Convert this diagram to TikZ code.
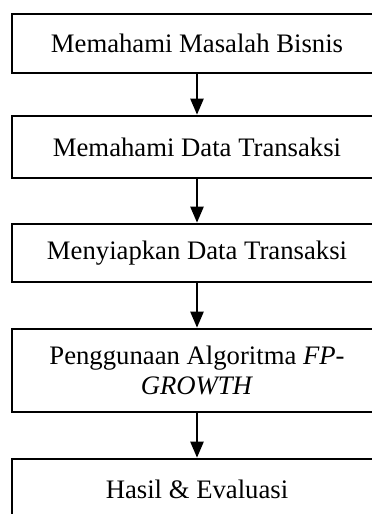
\documentclass[tikz,border=0pt]{standalone}
\usepackage{fontspec}
\setmainfont{Liberation Serif}
\usepackage{tikz}
\usetikzlibrary{arrows.meta}
\tikzset{
  stepbox/.style={draw, line width=2.6pt, minimum width=370pt, inner sep=0pt,
    align=center, font=\fontsize{26.7}{30}\selectfont},
  flowarrow/.style={line width=2.2pt, -{Triangle[length=16pt,width=13pt]}}
}

\begin{document}
\begin{tikzpicture}[x=1pt,y=1pt]
\clip (0,0) rectangle (372,-514);
% langkah-langkah
\node[stepbox, minimum height=59pt] (masalah) at (197,-43.5) {Memahami Masalah Bisnis};
\node[stepbox, minimum height=62pt] (data) at (197,-147) {Memahami Data Transaksi};
\node[stepbox, minimum height=58pt] (siap) at (197,-253) {Menyiapkan Data Transaksi};
\node[stepbox, minimum height=83pt] (algo) at (197,-370.5) {Penggunaan Algoritma \textit{FP-}\\\textit{GROWTH}};
\node[stepbox, minimum height=60pt] (hasil) at (197,-489) {Hasil \& Evaluasi};
% panah
\foreach \a/\b in {masalah/data, data/siap, siap/algo, algo/hasil} {
  \draw[flowarrow] (\a) -- (\b);
}
\end{tikzpicture}
\end{document}
